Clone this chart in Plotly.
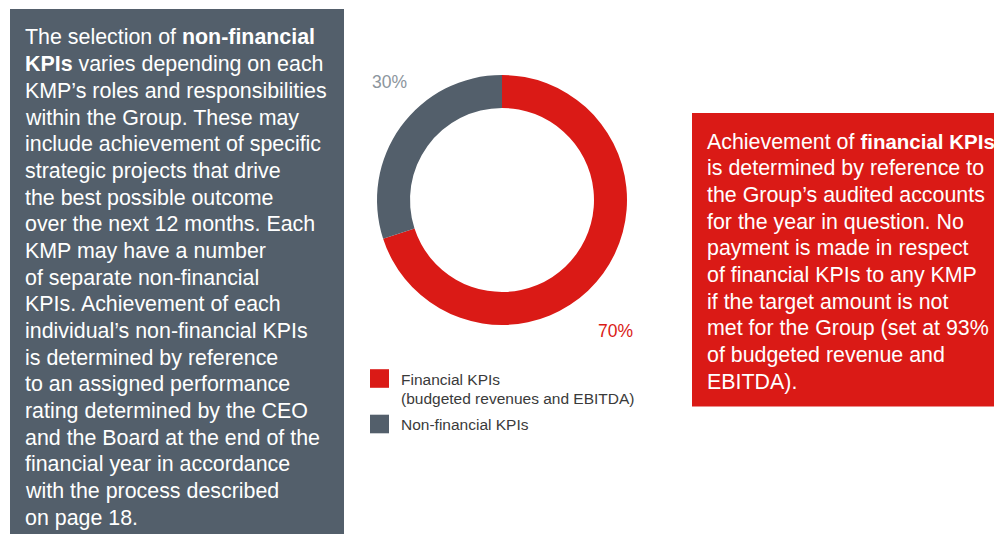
import plotly.graph_objects as go

W, H = 1002, 534
OFF = 8  # page body margin offset

categories = ["Financial KPIs<br>(budgeted revenues and EBITDA)", "Non-financial KPIs"]
shares = [70, 30]
colors = ["#DA1A16", "#535F6B"]

left_lines = [
    "The selection of <b>non-financial</b>",
    "<b>KPIs</b> varies depending on each",
    "KMP’s roles and responsibilities",
    "within the Group. These may",
    "include achievement of specific",
    "strategic projects that drive",
    "the best possible outcome",
    "over the next 12 months. Each",
    "KMP may have a number",
    "of separate non-financial",
    "KPIs. Achievement of each",
    "individual’s non-financial KPIs",
    "is determined by reference",
    "to an assigned performance",
    "rating determined by the CEO",
    "and the Board at the end of the",
    "financial year in accordance",
    "with the process described",
    "on page 18.",
]
right_lines = [
    "Achievement of <span style=\"font-size:20.5px\"><b>financial KPIs</b></span>",
    "is determined by reference to",
    "the Group’s audited accounts",
    "for the year in question. No",
    "payment is made in respect",
    "of financial KPIs to any KMP",
    "if the target amount is not",
    "met for the Group (set at 93%",
    "of budgeted revenue and",
    "EBITDA).",
]

FONT = "Liberation Sans, Arial, Helvetica, sans-serif"
BODY_SIZE = 21.4
LINE_GAP = 26.67


def px(x):
    return (x - OFF) / W


def py(y):
    return 1 - (y - OFF) / H


fig = go.Figure()
fig.add_trace(go.Pie(
    labels=categories,
    values=shares,
    hole=0.736,
    sort=False,
    direction="clockwise",
    rotation=0,
    marker=dict(colors=colors, line=dict(width=0)),
    textinfo="none",
    showlegend=False,
    hoverinfo="label+percent",
    domain=dict(x=[px(377), px(627)], y=[py(325), py(75)]),
))

shapes = [
    dict(type="rect", xref="paper", yref="paper", x0=px(10), x1=px(344), y0=py(560), y1=py(9),
         fillcolor="#535F6B", line=dict(width=0), layer="below"),
    dict(type="rect", xref="paper", yref="paper", x0=px(692), x1=px(1020), y0=py(406.5), y1=py(113),
         fillcolor="#DA1A16", line=dict(width=0), layer="below"),
]

annotations = []


def add_line(text, x, y, size, color, xanchor="left"):
    annotations.append(dict(text=text, x=px(x), y=py(y), xref="paper", yref="paper",
                            xanchor=xanchor, yanchor="middle", align="left", showarrow=False,
                            borderpad=0,
                            font=dict(family=FONT, size=size, color=color)))


for i, line in enumerate(left_lines):
    add_line(line, 24, 37.5 + i * LINE_GAP, BODY_SIZE, "#FFFFFF")
for i, line in enumerate(right_lines):
    add_line(line, 705.5, 141.5 + i * LINE_GAP, BODY_SIZE, "#FFFFFF")

add_line(f"{shares[1]}%", 371, 82, 17.5, "#8C959D")
add_line(f"{shares[0]}%", 634, 331, 17.5, "#DA1A16", xanchor="right")

# manual legend
leg_rows = [[379.5, 398.5], [424.5]]
sq_centers = [378.5, 424]
for cat, col, rows, sc in zip(categories, colors, leg_rows, sq_centers):
    shapes.append(dict(type="rect", xref="paper", yref="paper", x0=px(370), x1=px(389),
                       y0=py(sc + 9.3), y1=py(sc - 9.3), fillcolor=col, line=dict(width=0)))
    for txt, yy in zip(cat.split("<br>"), rows):
        add_line(txt, 400, yy, 15.5, "#3A3A3A")

fig.update_layout(
    width=W, height=H,
    margin=dict(l=0, r=0, t=0, b=0),
    paper_bgcolor="#FFFFFF",
    plot_bgcolor="#FFFFFF",
    shapes=shapes,
    annotations=annotations,
)

fig.write_html("out.html")
